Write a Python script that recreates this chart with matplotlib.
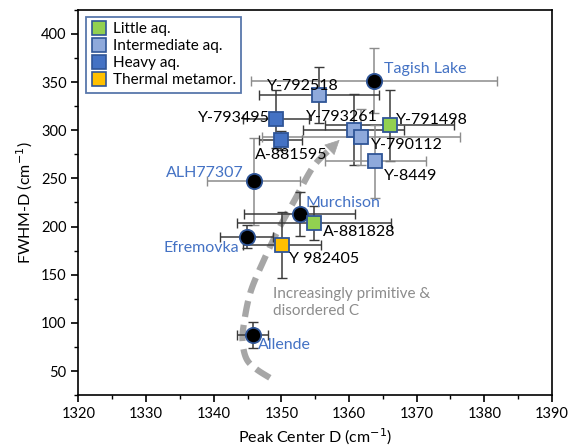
import numpy as np
import matplotlib
matplotlib.use("Agg")
import matplotlib.pyplot as plt
from matplotlib.lines import Line2D
from matplotlib.ticker import MultipleLocator

plt.rcParams['font.family'] = ['Lato', 'DejaVu Sans']

# ---------------- data ----------------
names  = ["Tagish Lake", "ALH77307", "Murchison", "Efremovka", "Allende",
          "Y-792518", "Y-793495", "A-881595", "Y-793261", "Y-790112",
          "Y-791498", "Y-8449", "A-881828", "Y 982405"]
groups = ["CM", "CM", "CM", "CM", "CM",
          "inter", "heavy", "heavy", "inter", "inter",
          "little", "inter", "little", "thermal"]
peak_x = [1363.7, 1345.9, 1352.7, 1344.9, 1345.8,
          1355.6, 1349.2, 1349.9, 1360.7, 1361.8,
          1366.0, 1363.9, 1354.8, 1350.1]
fwhm_y = [351.5, 246.8, 213.2, 189.6, 87.4,
          336.2, 312.0, 289.4, 300.5, 293.0,
          305.0, 267.6, 203.5, 181.0]
x_err  = [18.2, 6.9, 8.2, 3.9, 2.3,
          8.9, 4.9, 3.2, 7.5, 14.6,
          9.5, 7.5, 11.4, 5.7]
y_err  = [34.0, 45.0, 23.0, 11.6, 13.5,
          29.0, 30.0, 10.0, 37.0, 29.0,
          36.5, 37.5, 17.5, 34.6]
err_col = ["#8C8C8C", "#8C8C8C", "#3A3A3A", "#3A3A3A", "#3A3A3A",
           "#3A3A3A", "#3A3A3A", "#3A3A3A", "#3A3A3A", "#8C8C8C",
           "#3A3A3A", "#8C8C8C", "#3A3A3A", "#3A3A3A"]

# label positions (data coords) and alignment
label_x = [1365.2, 1344.4, 1353.5, 1343.8, 1346.6,
           1347.8, 1348.3, 1346.1, 1353.6, 1363.2,
           1367.0, 1365.2, 1356.1, 1351.2]
label_y = [364.0, 255.5, 224.3, 177.5, 77.0,
           346.2, 312.9, 274.5, 314.0, 284.2,
           310.8, 252.7, 194.5, 166.4]
label_ha = ["left", "right", "left", "right", "left",
            "left", "right", "left", "left", "left",
            "left", "left", "left", "left"]

legend_labels = ["Little aq.", "Intermediate aq.", "Heavy aq.", "Thermal metamor."]
legend_keys   = ["little", "inter", "heavy", "thermal"]

# trend arrow path (decoration)
trend_x = [1348.3, 1346.3, 1344.9, 1344.3, 1344.4, 1345.4, 1347.4, 1349.8, 1352.0, 1354.7, 1357.3]
trend_y = [43.0, 52.0, 62.0, 78.0, 96.0, 131.0, 165.0, 200.0, 228.0, 262.0, 281.0]
trend_tip = (1358.9, 292.0)
trend_text = "Increasingly primitive &\ndisordered C"

# ---------------- style ----------------
face = {"little": "#92D050", "inter": "#8EA9DB", "heavy": "#4472C4",
        "thermal": "#FFC000", "CM": "#000000"}
edge = {"little": "#2F5597", "inter": "#2F5597", "heavy": "#2F5597",
        "thermal": "#2F5597", "CM": "#2F5597"}
marker = {"little": "s", "inter": "s", "heavy": "s", "thermal": "s", "CM": "o"}
msize = {"little": 10, "inter": 10, "heavy": 10, "thermal": 10, "CM": 11}
blue_txt = "#4472C4"

fig = plt.figure(figsize=(5.72, 4.48), dpi=100)
ax = fig.add_axes([0.137, 0.118, 0.828, 0.860])

# trend curve (Catmull-Rom smoothing for the decoration only)
P = np.column_stack([trend_x, trend_y])
P = np.vstack([P[0], P, P[-1]])
cx, cy = [], []
for i in range(1, len(P) - 2):
    p0, p1, p2, p3 = P[i-1], P[i], P[i+1], P[i+2]
    for t in np.linspace(0, 1, 12, endpoint=False):
        t2, t3 = t*t, t*t*t
        pt = 0.5*((2*p1) + (-p0+p2)*t + (2*p0-5*p1+4*p2-p3)*t2 + (-p0+3*p1-3*p2+p3)*t3)
        cx.append(pt[0]); cy.append(pt[1])
cx.append(P[-2][0]); cy.append(P[-2][1])
ax.plot(cx, cy, color="#A6A6A6", lw=4.5, dashes=(2.6, 1.3), solid_capstyle='butt', zorder=1)
ax.annotate("", xy=trend_tip, xytext=(trend_x[-1], trend_y[-1]),
            arrowprops=dict(arrowstyle="-|>", mutation_scale=24, color="#A6A6A6", lw=0.5), zorder=1)
ax.text(1348.7, 121, trend_text, color="#8C8C8C", fontsize=11, ha="left", va="center",
        linespacing=1.3, zorder=2)

for i in range(len(names)):
    ax.errorbar(peak_x[i], fwhm_y[i], xerr=x_err[i], yerr=y_err[i], fmt="none",
                ecolor=err_col[i], elinewidth=1.1, capsize=3.5, capthick=1.0, zorder=2)
for i in range(len(names)):
    g = groups[i]
    ax.plot(peak_x[i], fwhm_y[i], marker=marker[g], ms=msize[g], mfc=face[g],
            mec=edge[g], mew=1.3, ls="none", zorder=3)
    col = "black" if g != "CM" else blue_txt
    ax.text(label_x[i], label_y[i], names[i], color=col, fontsize=11.5,
            ha=label_ha[i], va="center", zorder=4)

ax.set_xlim(1320, 1390)
ax.set_ylim(25, 425)
ax.xaxis.set_major_locator(MultipleLocator(10))
ax.xaxis.set_minor_locator(MultipleLocator(5))
ax.yaxis.set_minor_locator(MultipleLocator(25))
ax.set_yticks(np.arange(50, 401, 50))
ax.tick_params(which="major", direction="out", length=5, width=1.2, labelsize=10.5)
ax.tick_params(which="minor", direction="out", length=3, width=1.0)
for s in ax.spines.values():
    s.set_linewidth(1.2)
ax.set_xlabel("Peak Center D (cm$^{-1}$)", fontsize=11.5, labelpad=4)
ax.set_ylabel("FWHM-D (cm$^{-1}$)", fontsize=11.5, labelpad=4)

handles = [Line2D([], [], marker="s", ls="none", ms=9.5, mfc=face[k], mec=edge[k], mew=1.2)
           for k in legend_keys]
leg = ax.legend(handles, legend_labels, loc="upper left", bbox_to_anchor=(0.016, 0.982),
                fontsize=11, frameon=True, fancybox=False, borderpad=0.35,
                handletextpad=0.4, labelspacing=0.2, handlelength=1.0, borderaxespad=0)
leg.get_frame().set_edgecolor("#2F5597")
leg.get_frame().set_linewidth(1.3)

fig.savefig("out.png", dpi=100)
